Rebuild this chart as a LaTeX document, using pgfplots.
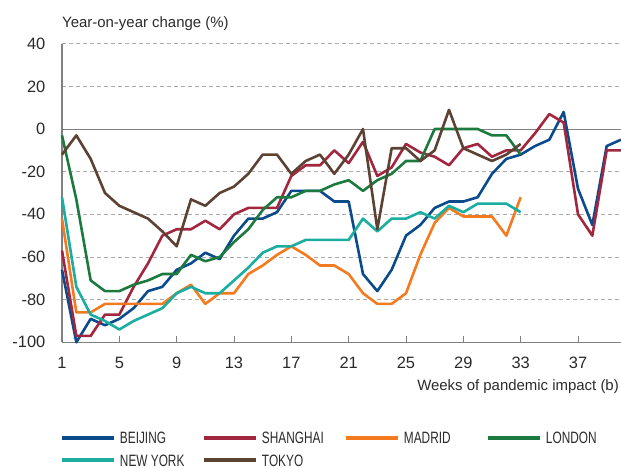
\documentclass[border=0pt]{standalone}
\usepackage{fontspec}
\setmainfont{Liberation Sans}
\newfontfamily\condensed[FakeStretch=0.72]{Liberation Sans}
\usepackage{pgfplots}
\pgfplotsset{compat=1.18}
\definecolor{cBeijing}{HTML}{0B4A8B}
\definecolor{cShanghai}{HTML}{A3263F}
\definecolor{cMadrid}{HTML}{F47A20}
\definecolor{cLondon}{HTML}{1D7A3E}
\definecolor{cNewYork}{HTML}{1AADA0}
\definecolor{cTokyo}{HTML}{5C4232}
\definecolor{axisgray}{HTML}{808080}
\definecolor{gridgray}{HTML}{AAAAAA}
\definecolor{txt}{HTML}{2A2A2A}
\newcommand{\legtext}[1]{\makebox[82bp][l]{\condensed\fontsize{16.5}{18}\selectfont #1}}
\begin{document}
\begin{tikzpicture}
\useasboundingbox (-62bp,-125.7bp) rectangle (559bp,342.3bp);
\begin{axis}[
  at={(0,0)}, anchor=south west,
  scale only axis, width=559bp, height=298.6bp,
  xmin=1, xmax=40, ymin=-100, ymax=40,
  clip=false,
  axis x line*=bottom, axis y line*=left,
  axis line style={draw=axisgray, line width=1.3bp, -},
  xtick={1,5,9,13,17,21,25,29,33,37},
  xticklabels={1,5,9,13,17,21,25,29,33,37},
  ytick={-100,-80,-60,-40,-20,0,20,40},
  yticklabels={-100,-80,-60,-40,-20,0,20,40},
  x tick style={draw=axisgray, line width=1bp},
  major tick length=6bp,
  xtick pos=bottom, ytick style={draw=none},
  tick align=inside,
  tick label style={font=\fontsize{16.5}{18}\selectfont, text=txt, inner sep=0pt},
  xticklabel style={anchor=north, yshift=-14.4bp},
  yticklabel style={anchor=east, xshift=-16.5bp},
  ymajorgrids,
  grid style={draw=gridgray, line width=0.9bp, dash pattern=on 4bp off 3bp},
  every axis plot/.append style={line width=2.6bp, line join=round},
  legend columns=4,
  legend style={draw=none, fill=none, inner sep=0pt, outer sep=0pt,
    at={(axis description cs:-0.0036,-0.2994)}, anchor=north west,
    nodes={inner sep=0pt, text height=12bp, text depth=0bp, text=txt},
    row sep=10.3bp,
    /tikz/every odd column/.append style={column sep=4bp}},
  legend cell align=left,
  legend image code/.code={\draw[#1, line width=4bp] (0bp,0bp) -- (52bp,0bp);},
]
\draw[axisgray, line width=1bp] (axis cs:1,0) -- (axis cs:40,0);
\addplot[color=cBeijing] coordinates {(1,-66)(2,-100)(3,-89)(4,-92)(5,-89)(6,-84)(7,-76)(8,-74)(9,-66)(10,-63)(11,-58)(12,-61)(13,-50)(14,-42)(15,-42)(16,-39)(17,-29)(18,-29)(19,-29)(20,-34)(21,-34)(22,-68)(23,-76)(24,-66)(25,-50)(26,-45)(27,-37)(28,-34)(29,-34)(30,-32)(31,-21)(32,-14)(33,-12)(34,-8)(35,-5)(36,8)(37,-28)(38,-45)(39,-8)(40,-5)};
\addlegendentry{\legtext{BEIJING}}
\addplot[color=cShanghai] coordinates {(1,-57)(2,-97)(3,-97)(4,-87)(5,-87)(6,-74)(7,-63)(8,-50)(9,-47)(10,-47)(11,-43)(12,-47)(13,-40)(14,-37)(15,-37)(16,-37)(17,-22)(18,-17)(19,-17)(20,-10)(21,-16)(22,-6)(23,-22)(24,-18)(25,-7)(26,-11)(27,-13)(28,-17)(29,-9)(30,-7)(31,-13)(32,-10)(33,-10)(34,-2)(35,7)(36,3)(37,-40)(38,-50)(39,-10)(40,-10)};
\addlegendentry{\legtext{SHANGHAI}}
\addplot[color=cMadrid] coordinates {(1,-42)(2,-86)(3,-86)(4,-82)(5,-82)(6,-82)(7,-82)(8,-82)(9,-77)(10,-73)(11,-82)(12,-77)(13,-77)(14,-68)(15,-64)(16,-59)(17,-55)(18,-59)(19,-64)(20,-64)(21,-68)(22,-77)(23,-82)(24,-82)(25,-77)(26,-59)(27,-44)(28,-37)(29,-41)(30,-41)(31,-41)(32,-50)(33,-32)};
\addlegendentry{\legtext{MADRID}}
\addplot[color=cLondon] coordinates {(1,-3)(2,-33)(3,-71)(4,-76)(5,-76)(6,-73)(7,-71)(8,-68)(9,-68)(10,-59)(11,-62)(12,-60)(13,-53)(14,-47)(15,-38)(16,-32)(17,-32)(18,-29)(19,-29)(20,-26)(21,-24)(22,-29)(23,-24)(24,-21)(25,-15)(26,-15)(27,0)(28,0)(29,0)(30,0)(31,-3)(32,-3)(33,-12)};
\addlegendentry{\legtext{LONDON}}
\addplot[color=cNewYork] coordinates {(1,-32)(2,-74)(3,-87)(4,-90)(5,-94)(6,-90)(7,-87)(8,-84)(9,-77)(10,-74)(11,-77)(12,-77)(13,-71)(14,-65)(15,-58)(16,-55)(17,-55)(18,-52)(19,-52)(20,-52)(21,-52)(22,-42)(23,-48)(24,-42)(25,-42)(26,-39)(27,-42)(28,-36)(29,-39)(30,-35)(31,-35)(32,-35)(33,-39)};
\addlegendentry{\legtext{NEW YORK}}
\addplot[color=cTokyo] coordinates {(1,-12)(2,-3)(3,-14)(4,-30)(5,-36)(6,-39)(7,-42)(8,-48)(9,-55)(10,-33)(11,-36)(12,-30)(13,-27)(14,-21)(15,-12)(16,-12)(17,-21)(18,-15)(19,-12)(20,-21)(21,-12)(22,0)(23,-47)(24,-9)(25,-9)(26,-15)(27,-10)(28,9)(29,-9)(30,-12)(31,-15)(32,-12)(33,-7)};
\addlegendentry{\legtext{TOKYO}}
\end{axis}
\node[anchor=base west, inner sep=0pt, text=txt, font=\fontsize{15}{18}\selectfont] at (0bp,315bp) {Year-on-year change (\%)};
\node[anchor=base east, inner sep=0pt, text=txt, font=\fontsize{15}{18}\selectfont] at (557bp,-48.2bp) {Weeks of pandemic impact (b)};
\end{tikzpicture}
\end{document}
